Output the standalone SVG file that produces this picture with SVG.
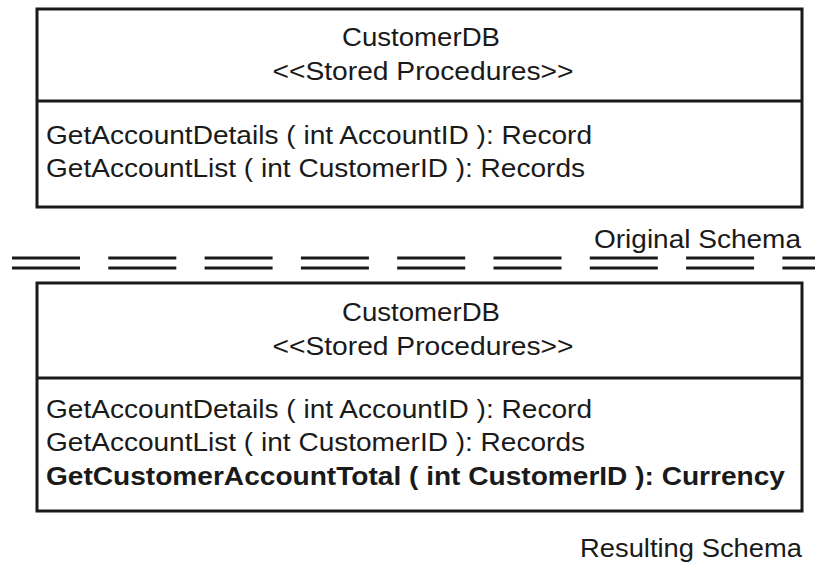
<svg xmlns="http://www.w3.org/2000/svg" width="815" height="565" viewBox="0 0 815 565">
<style>
.box{fill:#fff;stroke:#1a1a1a;stroke-width:3}
.div{stroke:#1a1a1a;stroke-width:3}
text{font-family:"Liberation Sans",Arial,sans-serif;font-size:25px;fill:#1a1a1a}
.c{text-anchor:middle}
.b{font-weight:bold}
.dash{stroke:#1a1a1a;stroke-width:3.2;stroke-dasharray:68 28.3;fill:none}
</style>
<rect width="815" height="565" fill="#fff"/>
<g id="original">
<rect class="box" x="37" y="9" width="765" height="198"/>
<line class="div" x1="37" y1="101" x2="802" y2="101"/>
<text class="c" x="421" y="46" textLength="158" lengthAdjust="spacingAndGlyphs">CustomerDB</text>
<text class="c" x="423" y="80" textLength="301" lengthAdjust="spacingAndGlyphs">&lt;&lt;Stored Procedures&gt;&gt;</text>
<text x="46" y="144" textLength="546" lengthAdjust="spacingAndGlyphs">GetAccountDetails ( int AccountID ): Record</text>
<text x="46" y="177" textLength="539" lengthAdjust="spacingAndGlyphs">GetAccountList ( int CustomerID ): Records</text>
</g>
<g id="original-label">
<text x="594" y="248" textLength="207" lengthAdjust="spacingAndGlyphs">Original Schema</text>
</g>
<g id="connectors">
<line class="dash" x1="12" y1="258" x2="815" y2="258"/>
<line class="dash" x1="12" y1="268" x2="815" y2="268"/>
</g>
<g id="resulting">
<rect class="box" x="37" y="283" width="765" height="228"/>
<line class="div" x1="37" y1="378" x2="802" y2="378"/>
<text class="c" x="421" y="321" textLength="158" lengthAdjust="spacingAndGlyphs">CustomerDB</text>
<text class="c" x="423" y="355" textLength="301" lengthAdjust="spacingAndGlyphs">&lt;&lt;Stored Procedures&gt;&gt;</text>
<text x="46" y="418" textLength="546" lengthAdjust="spacingAndGlyphs">GetAccountDetails ( int AccountID ): Record</text>
<text x="46" y="451" textLength="539" lengthAdjust="spacingAndGlyphs">GetAccountList ( int CustomerID ): Records</text>
<text class="b" x="46" y="485" textLength="739" lengthAdjust="spacingAndGlyphs">GetCustomerAccountTotal ( int CustomerID ): Currency</text>
</g>
<g id="resulting-label">
<text x="580" y="557" textLength="222" lengthAdjust="spacingAndGlyphs">Resulting Schema</text>
</g>
</svg>
